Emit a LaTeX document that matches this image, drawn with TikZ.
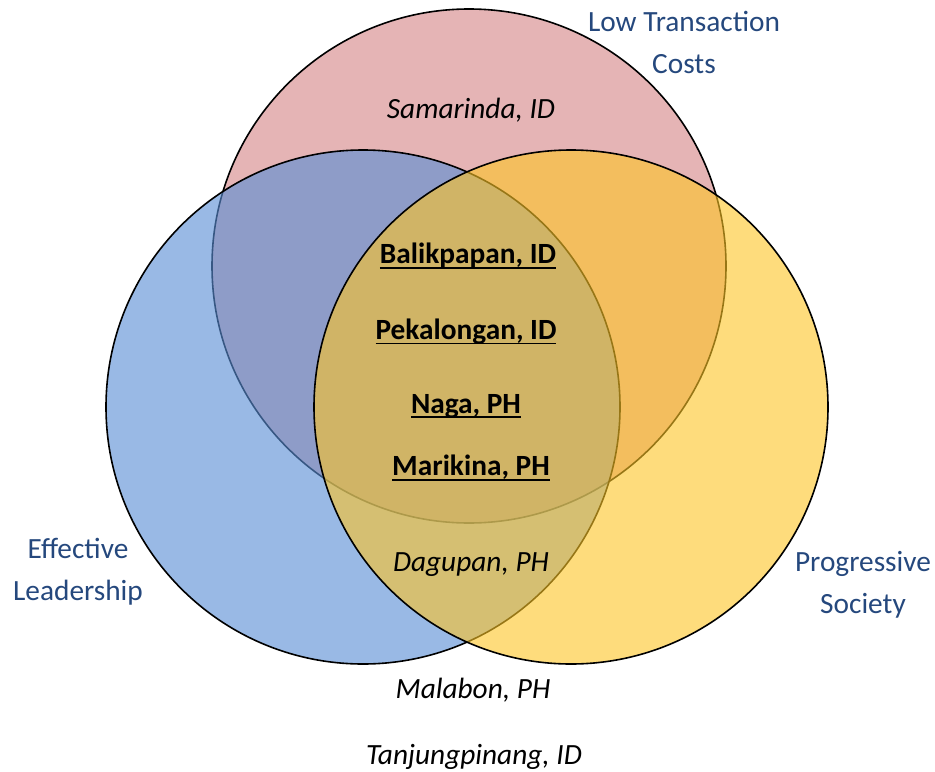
\documentclass[tikz,border=0pt]{standalone}
\usepackage{fontspec}
\setmainfont{Carlito}
\usepackage{tikz}
\usetikzlibrary{positioning}
\definecolor{costred}{RGB}{229,180,181}
\definecolor{leadblue}{RGB}{90,142,213}
\definecolor{socyellow}{RGB}{253,197,37}
\definecolor{headblue}{RGB}{37,72,125}
\tikzset{setcircle/.style={draw=black, line width=1.2pt, circle, inner sep=0pt, minimum size=385.5pt}}
\newcommand{\cityline}[1]{\setbox0\hbox{#1}\rlap{\vrule height -2.4pt depth 3.5pt width \wd0}\box0}

\begin{document}
\begin{tikzpicture}[x=0.75pt, y=-0.75pt,
    every node/.style={align=center, font=\fontsize{22}{31.5}\selectfont},
    heading/.style={text=headblue},
    city/.style={font=\fontsize{22}{26}\selectfont\itshape},
    core/.style={font=\fontsize{22}{26}\selectfont\bfseries}]
    \useasboundingbox (0,0) rectangle (935,771);

    % the three sets
    \node[setcircle, fill=costred] (costs) at (469,266) {};
    \node[setcircle, fill=leadblue, fill opacity=0.62] (lead) at (363,407) {};
    \node[setcircle, fill=socyellow, fill opacity=0.6] (soc) at (571,407) {};

    % set names
    \node[heading] (lowcost) at (684,42) {Low Transaction\\Costs};
    \node[heading] (effect) at (78,572) {Effective\\Leadership};
    \node[heading] (progress) at (863,585) {Progressive\\Society};

    % cities
    \node[city] (sam) at (471,110) {Samarinda, ID};
    \node[core] (bal) at (468,256) {\cityline{Balikpapan, ID}};
    \node[core] (pek) at (466,332) {\cityline{Pekalongan, ID}};
    \node[core] (naga) at (466,406) {\cityline{Naga, PH}};
    \node[core] (mar) at (471,468) {\cityline{Marikina, PH}};
    \node[city] (dag) at (471,565) {Dagupan, PH};
    \node[city] (mal) at (473,690) {Malabon, PH};
    \node[city] (tan) at (474,757) {Tanjungpinang, ID};
\end{tikzpicture}
\end{document}
